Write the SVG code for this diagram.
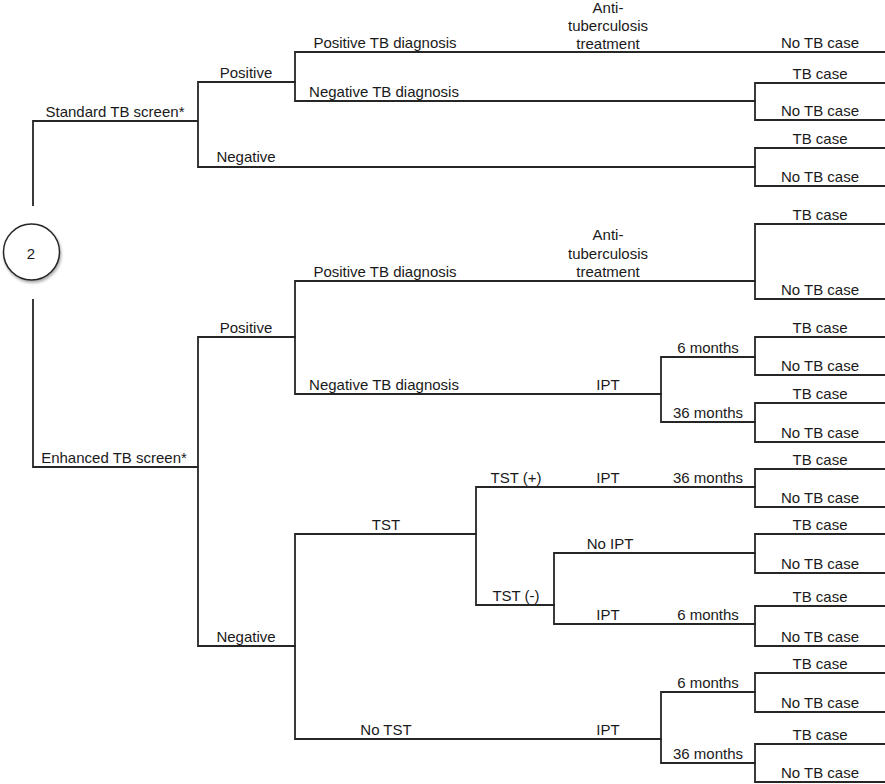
<svg xmlns="http://www.w3.org/2000/svg" width="885" height="784" viewBox="0 0 885 784">
<style>
.ln{fill:none;stroke:#262626;stroke-width:1.8;stroke-linecap:square}
text{font-family:"Liberation Sans",Arial,sans-serif;font-size:15px;fill:#1a1a1a;text-anchor:middle}
</style>
<defs>
<filter id="sh" x="-30%" y="-30%" width="160%" height="160%"><feGaussianBlur in="SourceAlpha" stdDeviation="1.5"/><feOffset dx="1" dy="2"/><feComponentTransfer><feFuncA type="linear" slope="0.35"/></feComponentTransfer><feMerge><feMergeNode/><feMergeNode in="SourceGraphic"/></feMerge></filter>
</defs>
<rect width="885" height="784" fill="#fff"/>
<g id="connectors">
<path class="ln" d="M33,205 V121 H198 M198,82 V167 M198,82 H295 M198,167 H755"/>
<path class="ln" d="M295,52 V101 M295,52 H885 M295,101 H755"/>
<path class="ln" d="M755,83 V120 M755,83 H885 M755,120 H885"/>
<path class="ln" d="M755,148 V186 M755,148 H885 M755,186 H885"/>
<path class="ln" d="M33,300 V467 H198 M198,337 V646 M198,337 H295 M198,646 H295"/>
<path class="ln" d="M295,281 V394 M295,281 H755 M295,394 H661"/>
<path class="ln" d="M755,224 V299 M755,224 H885 M755,299 H885"/>
<path class="ln" d="M661,357 V422 M661,357 H755 M661,422 H755"/>
<path class="ln" d="M755,337 V375 M755,337 H885 M755,375 H885"/>
<path class="ln" d="M755,403 V442 M755,403 H885 M755,442 H885"/>
<path class="ln" d="M295,534 V739 M295,534 H476 M295,739 H661"/>
<path class="ln" d="M476,487 V605 M476,487 H755 M476,605 H554"/>
<path class="ln" d="M755,469 V507 M755,469 H885 M755,507 H885"/>
<path class="ln" d="M554,553 V624 M554,553 H755 M554,624 H755"/>
<path class="ln" d="M755,534 V573 M755,534 H885 M755,573 H885"/>
<path class="ln" d="M755,606 V646 M755,606 H885 M755,646 H885"/>
<path class="ln" d="M661,692 V763 M661,692 H755 M661,763 H755"/>
<path class="ln" d="M755,673 V712 M755,673 H885 M755,712 H885"/>
<path class="ln" d="M755,744 V782 M755,744 H885 M755,782 H885"/>
</g>
<g id="root">
<circle cx="31.5" cy="252" r="28" fill="#fff" stroke="#262626" stroke-width="1.5" filter="url(#sh)"/>
<text x="31" y="258.5" font-size="17.5">2</text>
</g>
<g id="standard">
<text x="115" y="117">Standard TB screen*</text>
<text x="246" y="78">Positive</text>
<text x="246" y="162">Negative</text>
<text x="385" y="48">Positive TB diagnosis</text>
<text x="384" y="97">Negative TB diagnosis</text>
<text x="608" y="12.5">Anti-</text>
<text x="608" y="31">tuberculosis</text>
<text x="608" y="49">treatment</text>
<text x="820" y="48">No TB case</text>
<text x="820" y="79">TB case</text>
<text x="820" y="116">No TB case</text>
<text x="820" y="144">TB case</text>
<text x="820" y="182">No TB case</text>
</g>
<g id="enhanced">
<text x="114" y="463">Enhanced TB screen*</text>
<text x="246" y="333">Positive</text>
<text x="246" y="642">Negative</text>
<text x="385" y="277">Positive TB diagnosis</text>
<text x="384" y="390">Negative TB diagnosis</text>
<text x="608" y="240">Anti-</text>
<text x="608" y="259">tuberculosis</text>
<text x="608" y="277">treatment</text>
<text x="820" y="220">TB case</text>
<text x="820" y="295">No TB case</text>
<text x="608" y="390">IPT</text>
<text x="708" y="353">6 months</text>
<text x="708" y="418">36 months</text>
<text x="820" y="333">TB case</text>
<text x="820" y="371">No TB case</text>
<text x="820" y="399">TB case</text>
<text x="820" y="438">No TB case</text>
</g>
<g id="tst">
<text x="386" y="530">TST</text>
<text x="516" y="483">TST (+)</text>
<text x="608" y="483">IPT</text>
<text x="708" y="483">36 months</text>
<text x="820" y="465">TB case</text>
<text x="820" y="503">No TB case</text>
<text x="516" y="601">TST (-)</text>
<text x="610" y="549">No IPT</text>
<text x="820" y="530">TB case</text>
<text x="820" y="569">No TB case</text>
<text x="608" y="620">IPT</text>
<text x="708" y="620">6 months</text>
<text x="820" y="602">TB case</text>
<text x="820" y="642">No TB case</text>
</g>
<g id="notst">
<text x="386" y="735">No TST</text>
<text x="608" y="735">IPT</text>
<text x="708" y="688">6 months</text>
<text x="708" y="759">36 months</text>
<text x="820" y="669">TB case</text>
<text x="820" y="708">No TB case</text>
<text x="820" y="740">TB case</text>
<text x="820" y="778">No TB case</text>
</g>
</svg>
